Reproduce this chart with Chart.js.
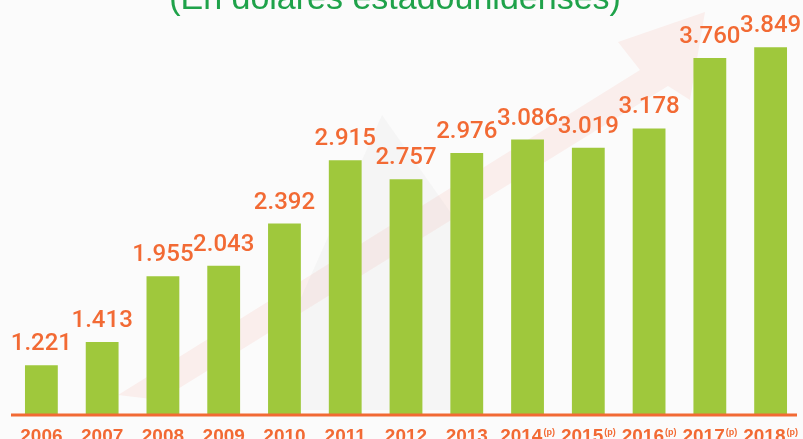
<!DOCTYPE html>
<html>
<head>
<meta charset="utf-8">
<script src="https://cdn.jsdelivr.net/npm/chart.js@4.4.1/dist/chart.umd.min.js"></script>
<style>
  html, body { margin: 0; padding: 0; background: #fbfbfb; }
  #wrap { width: 803px; height: 439px; position: relative; }
</style>
</head>
<body>
<div id="wrap"><canvas id="chart"></canvas></div>
<script>
const years = ['2006', '2007', '2008', '2009', '2010', '2011', '2012', '2013', '2014', '2015', '2016', '2017', '2018'];
const projected = [false, false, false, false, false, false, false, false, true, true, true, true, true];
const values = [1221, 1413, 1955, 2043, 2392, 2915, 2757, 2976, 3086, 3019, 3178, 3760, 3849];
const subtitle = '(En dólares estadounidenses)';

const GREEN = '#9fc83c';
const ORANGE = '#f26a34';
const TITLE_GREEN = '#1fa24a';

function fmt(v) {
  return String(v).replace(/\B(?=(\d{3})+(?!\d))/g, '.');
}

// faint arrow behind the bars, purely decorative
const backdropPlugin = {
  id: 'backdrop',
  beforeDatasetsDraw(chart) {
    const ctx = chart.ctx;
    ctx.save();
    ctx.fillStyle = 'rgba(240, 110, 90, 0.09)';
    ctx.beginPath();
    ctx.moveTo(118, 395);
    ctx.lineTo(640, 70);
    ctx.lineTo(618, 42);
    ctx.lineTo(705, 12);
    ctx.lineTo(690, 100);
    ctx.lineTo(668, 86);
    ctx.lineTo(160, 400);
    ctx.closePath();
    ctx.fill();
    ctx.fillStyle = 'rgba(200, 200, 200, 0.10)';
    ctx.beginPath();
    ctx.moveTo(300, 300);
    ctx.lineTo(382, 115);
    ctx.lineTo(470, 240);
    ctx.lineTo(470, 410);
    ctx.lineTo(300, 410);
    ctx.closePath();
    ctx.fill();
    ctx.restore();
  },
};

const labelsPlugin = {
  id: 'bar-labels',
  afterDatasetsDraw(chart) {
    const ctx = chart.ctx;
    const meta = chart.getDatasetMeta(0);
    const area = chart.chartArea;
    const baseY = chart.scales.y.getPixelForValue(chart.scales.y.min);
    ctx.save();

    // orange baseline
    ctx.strokeStyle = ORANGE;
    ctx.lineWidth = 3;
    ctx.beginPath();
    ctx.moveTo(area.left, baseY + 1);
    ctx.lineTo(area.right - 4, baseY + 1);
    ctx.stroke();

    // value labels
    ctx.fillStyle = ORANGE;
    ctx.textAlign = 'center';
    ctx.textBaseline = 'alphabetic';
    ctx.font = '500 24px Roboto, "Liberation Sans", sans-serif';
    meta.data.forEach((bar, i) => {
      ctx.fillText(fmt(values[i]), bar.x, bar.y - 15);
    });

    // year labels with (p) superscript
    ctx.textAlign = 'left';
    meta.data.forEach((bar, i) => {
      ctx.font = 'bold 19px "Liberation Sans", Arial, sans-serif';
      const yw = ctx.measureText(years[i]).width;
      let sw = 0;
      if (projected[i]) {
        ctx.font = 'bold 9px "Liberation Sans", Arial, sans-serif';
        sw = ctx.measureText('(p)').width + 1;
      }
      const x0 = bar.x - (yw + sw) / 2;
      ctx.font = 'bold 19px "Liberation Sans", Arial, sans-serif';
      ctx.fillText(years[i], x0, 442);
      if (projected[i]) {
        ctx.font = 'bold 9px "Liberation Sans", Arial, sans-serif';
        ctx.fillText('(p)', x0 + yw + 1, 435);
      }
    });

    // subtitle, cut off at the top as in the source
    ctx.fillStyle = TITLE_GREEN;
    ctx.textAlign = 'center';
    ctx.font = '34px "Liberation Sans", Arial, sans-serif';
    ctx.fillText(subtitle, 395, 9);
    ctx.restore();
  },
};

new Chart(document.getElementById('chart'), {
  type: 'bar',
  data: {
    labels: years,
    datasets: [{
      data: values,
      backgroundColor: GREEN,
      borderWidth: 0,
      barPercentage: 0.54,
      categoryPercentage: 1.0,
    }],
  },
  options: {
    responsive: true,
    maintainAspectRatio: false,
    animation: false,
    layout: { padding: { top: 0, bottom: 25, left: 11, right: 2 } },
    scales: {
      x: { display: false },
      y: { display: false, min: 817, max: 4240 },
    },
    plugins: {
      legend: { display: false },
      tooltip: { enabled: false },
    },
  },
  plugins: [backdropPlugin, labelsPlugin],
});
</script>
</body>
</html>
